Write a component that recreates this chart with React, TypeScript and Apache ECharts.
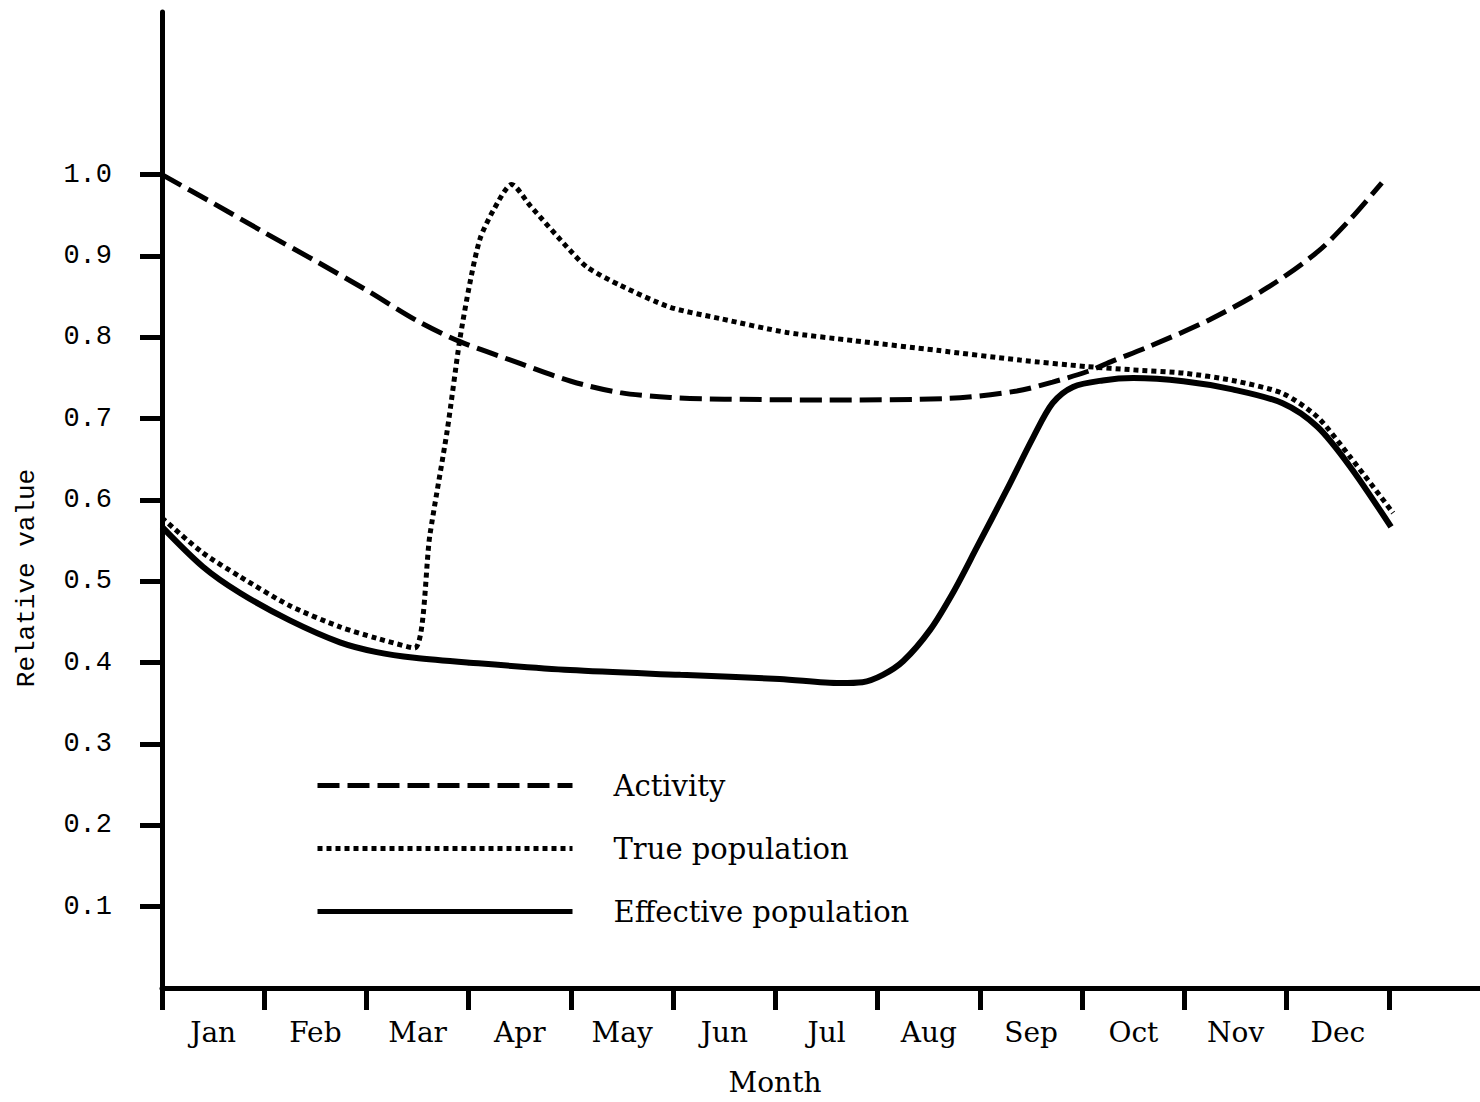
import React, { useEffect, useRef } from 'react';
import * as echarts from 'echarts';

const months = ['Jan', 'Feb', 'Mar', 'Apr', 'May', 'Jun', 'Jul', 'Aug', 'Sep', 'Oct', 'Nov', 'Dec'];
const monthLabelPositions = [0.5, 1.5, 2.5, 3.5, 4.5, 5.5, 6.5, 7.5, 8.5, 9.5, 10.5, 11.5];
const xTickValues = [0, 1, 2, 3, 4, 5, 6, 7, 8, 9, 10, 11, 12];
const yTickValues = [0.1, 0.2, 0.3, 0.4, 0.5, 0.6, 0.7, 0.8, 0.9, 1.0];

const activityMonth = [0, 0.5, 1.0, 1.5, 2.0, 2.5, 2.91, 3.5, 4.0, 4.48, 4.97, 5.5, 6.5, 7.7, 8.36, 8.71, 9.05, 9.3, 9.66, 10.25, 10.81, 11.3, 11.62, 11.93];
const activityValue = [1.0, 0.965, 0.929, 0.894, 0.858, 0.82, 0.795, 0.768, 0.746, 0.732, 0.726, 0.724, 0.723, 0.725, 0.734, 0.745, 0.758, 0.771, 0.789, 0.822, 0.861, 0.905, 0.945, 0.99];

const trueMonth = [0, 0.4, 0.76, 1.25, 1.74, 2.1, 2.47, 2.62, 2.79, 2.91, 3.01, 3.11, 3.24, 3.42, 3.6, 3.99, 4.16, 4.48, 4.97, 5.46, 6.11, 6.76, 7.58, 8.39, 9.05, 9.5, 9.99, 10.47, 10.96, 11.3, 11.62, 12.04];
const trueValue = [0.578, 0.535, 0.506, 0.47, 0.444, 0.43, 0.418, 0.557, 0.686, 0.795, 0.866, 0.921, 0.956, 0.988, 0.962, 0.907, 0.886, 0.864, 0.837, 0.823, 0.806, 0.796, 0.784, 0.772, 0.764, 0.76, 0.756, 0.747, 0.731, 0.702, 0.653, 0.584];

const effMonth = [0, 0.4, 0.76, 1.25, 1.74, 2.1, 2.47, 3.01, 3.99, 5.07, 6.04, 6.63, 6.85, 7.05, 7.25, 7.51, 7.74, 7.97, 8.26, 8.52, 8.71, 8.91, 9.2, 9.5, 9.99, 10.47, 10.96, 11.3, 11.62, 12.02];
const effValue = [0.567, 0.518, 0.486, 0.452, 0.425, 0.413, 0.406, 0.4, 0.391, 0.385, 0.38, 0.375, 0.376, 0.385, 0.402, 0.44, 0.487, 0.542, 0.612, 0.677, 0.719, 0.739, 0.747, 0.75, 0.746, 0.736, 0.719, 0.69, 0.641, 0.567];

const seriesNames = ['Activity', 'True population', 'Effective population'];

const SERIF = "'DejaVu Serif', serif";
const MONO = "'Liberation Mono', 'DejaVu Sans Mono', monospace";

function pairs(xs: number[], ys: number[]) {
  return xs.map((x, i) => [x, ys[i]]);
}

export default function App() {
  const ref = useRef<HTMLDivElement>(null);
  useEffect(() => {
    document.body.style.margin = '0';
    document.body.style.overflow = 'hidden';
    const chart = echarts.init(ref.current!, null, { renderer: 'svg' });
    chart.setOption({
      animation: false,
      backgroundColor: '#fff',
      grid: { left: 162, right: 0, top: 12, bottom: 114, containLabel: false },
      legend: {
        show: true,
        orient: 'vertical',
        left: 310,
        top: 766,
        itemWidth: 255,
        itemHeight: 30,
        itemGap: 34,
        selectedMode: false,
        itemStyle: { opacity: 0 },
        lineStyle: { width: 5 },
        textStyle: { fontFamily: SERIF, fontSize: 29, color: '#000', padding: [6, 0, 0, 36] },
        data: seriesNames,
      },
      xAxis: {
        type: 'value',
        min: 0,
        max: 12.89,
        axisLine: { show: true, lineStyle: { color: '#000', width: 5 } },
        axisTick: { show: true, customValues: xTickValues, length: 22, inside: false, lineStyle: { color: '#000', width: 5 } },
        axisLabel: {
          show: true,
          customValues: monthLabelPositions,
          formatter: (v: number) => months[Math.round(v - 0.5)] ?? '',
          margin: 30,
          fontSize: 28,
          color: '#000',
          fontFamily: SERIF,
        },
        splitLine: { show: false },
        name: 'Month',
        nameLocation: 'middle',
        nameGap: 80,
        nameTextStyle: { fontFamily: SERIF, fontSize: 28, color: '#000', padding: [0, 92, 0, 0] },
      },
      yAxis: {
        type: 'value',
        min: 0,
        max: 1.2,
        axisLine: { show: true, lineStyle: { color: '#000', width: 5 } },
        axisTick: { show: true, customValues: yTickValues, length: 22, inside: false, lineStyle: { color: '#000', width: 5 } },
        axisLabel: {
          show: true,
          customValues: yTickValues,
          formatter: (v: number) => v.toFixed(1),
          margin: 50,
          fontSize: 27,
          color: '#000',
          fontFamily: MONO,
        },
        splitLine: { show: false },
        name: 'Relative value',
        nameLocation: 'middle',
        nameRotate: 90,
        nameGap: 122,
        nameTextStyle: { fontFamily: MONO, fontSize: 26, color: '#000', padding: [0, 156, 0, 0] },
      },
      series: [
        {
          name: seriesNames[0],
          type: 'line',
          data: pairs(activityMonth, activityValue),
          showSymbol: false,
          symbol: 'none',
          smooth: 0.3,
          itemStyle: { color: '#000' },
          lineStyle: { color: '#000', width: 5, type: [22, 8] },
          z: 3,
        },
        {
          name: seriesNames[1],
          type: 'line',
          data: pairs(trueMonth, trueValue),
          showSymbol: false,
          symbol: 'none',
          smooth: 0.25,
          itemStyle: { color: '#000' },
          lineStyle: { color: '#000', width: 5, type: [5, 4] },
          z: 3,
        },
        {
          name: seriesNames[2],
          type: 'line',
          data: pairs(effMonth, effValue),
          showSymbol: false,
          symbol: 'none',
          smooth: 0.3,
          itemStyle: { color: '#000' },
          lineStyle: { color: '#000', width: 6, type: 'solid' },
          z: 3,
        },
      ],
    });
    return () => chart.dispose();
  }, []);
  return <div ref={ref} style={{ width: 1480, height: 1102 }} />;
}
